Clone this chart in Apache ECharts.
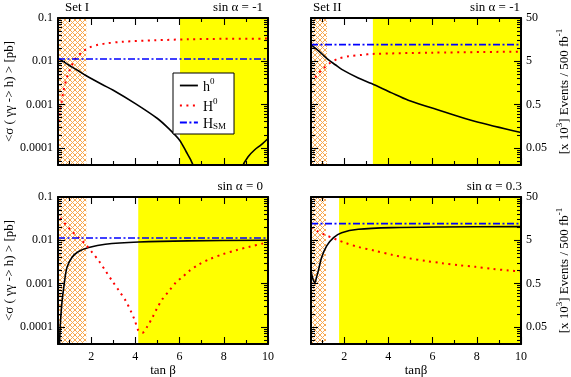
<!DOCTYPE html>
<html>
<head>
<meta charset="utf-8">
<script src="https://cdn.jsdelivr.net/npm/echarts@6/dist/echarts.min.js"></script>
<style>
html,body{margin:0;padding:0;background:#fff}
#chart{width:571px;height:377px}
</style>
</head>
<body>
<div id="chart"></div>
<script>
// axis ranges / ticks
const X_MIN = 0.5, X_MAX = 10;
const Y_MIN = 0.00004, Y_MAX = 0.1;
const EV = 500; // pb -> [x10^3] events for 500 fb^-1
const xMajor = [2, 4, 6, 8, 10];
const xMinor = [1, 3, 5, 7, 9];
const yMajor = [0.0001, 0.001, 0.01, 0.1];
const yMinor = [0.00005, 0.00006, 0.00007, 0.00008, 0.00009,
  0.0002, 0.0003, 0.0004, 0.0005, 0.0006, 0.0007, 0.0008, 0.0009,
  0.002, 0.003, 0.004, 0.005, 0.006, 0.007, 0.008, 0.009,
  0.02, 0.03, 0.04, 0.05, 0.06, 0.07, 0.08, 0.09];
const evTicks = [0.05, 0.5, 5, 50];

// Set I, sin a = -1
const s1a_h0 = [[0.5,0.0119],[0.75,0.0098],[1.0,0.0081],[1.4,0.0061],[1.74,0.00475],[2.5,0.0029],[3.0,0.00214],[4.0,0.00105],[5.0,0.000475],[5.5,0.00028],[6.0,0.00015],[6.3,0.000081],[6.5,0.000053],[6.7,0.00003],[6.85,0.000012],[7.5,null],[8.65,0.000012],[8.8,0.000033],[9.1,0.000062],[9.4,0.00009],[9.7,0.000118],[10,0.000164]];
const s1a_H0 = [[0.5,0.00028],[0.6,0.0007],[0.75,0.0021],[0.9,0.0042],[1.0,0.0058],[1.28,0.0112],[1.59,0.0162],[1.89,0.0205],[2.3,0.024],[2.64,0.0257],[3.4,0.0282],[4.9,0.0305],[6.4,0.0322],[8,0.033],[10,0.0334]];
const s1_hsm = [[0.5,0.0113],[10,0.0113]];

// Set II, sin a = -1
const s2a_h0 = [[0.5,0.0243],[0.75,0.019],[0.98,0.015],[1.28,0.0109],[1.6,0.0083],[1.89,0.0065],[2.64,0.0041],[3.24,0.00305],[4.15,0.00186],[4.9,0.00126],[6.4,0.00071],[7.9,0.00041],[10,0.000226]];
const s2a_H0 = [[0.7,0.0042],[0.76,0.0048],[1.06,0.0068],[1.36,0.0091],[1.74,0.0115],[2.2,0.013],[2.8,0.014],[3.3,0.0148],[6,0.0158],[10,0.0167]];
const s2_hsm = [[0.5,0.0243],[10,0.0243]];

// Set I, sin a = 0
const s1b_h0 = [[0.55,0.00002],[0.6,0.0001],[0.67,0.00033],[0.76,0.00081],[0.9,0.0023],[1.13,0.004],[1.43,0.0055],[1.89,0.0068],[2.64,0.0081],[4.15,0.0091],[6.4,0.0097],[10,0.01]];
const s1b_H0 = [[0.6,0.033],[0.65,0.0305],[0.91,0.0214],[1.14,0.0158],[1.44,0.0115],[1.74,0.0081],[2.05,0.0052],[2.35,0.00333],[2.65,0.00196],[2.95,0.00115],[3.26,0.00068],[3.56,0.0004],[3.79,0.000234],[3.98,0.000138],[4.14,0.000081],[4.32,0.000073],[4.55,0.000104],[4.77,0.000164],[5.0,0.00028],[5.23,0.00044],[5.53,0.00068],[5.83,0.00105],[6.14,0.00143],[6.44,0.00196],[6.89,0.0028],[7.35,0.00365],[7.95,0.00475],[8.56,0.0059],[9.17,0.0071],[9.77,0.0084],[10,0.0088]];

// Set II, sin a = 0.3
const s2b_h0 = [[0.5,0.00196],[0.59,0.00126],[0.68,0.00105],[0.75,0.0014],[0.83,0.00196],[0.98,0.004],[1.21,0.0074],[1.52,0.0115],[1.89,0.015],[2.64,0.0179],[4.15,0.0196],[6.4,0.0203],[10,0.0207]];
const s2b_H0 = [[0.5,0.0196],[0.83,0.0158],[1.14,0.0133],[1.44,0.0115],[1.74,0.01],[2.05,0.0087],[2.64,0.007],[3.41,0.0057],[4.17,0.0046],[4.92,0.00385],[5.68,0.00333],[6.44,0.00295],[7.2,0.00265],[7.95,0.00243],[8.7,0.00219],[9.45,0.002],[10,0.0019]];

// excluded (hatched) and allowed (yellow) tan b ranges per panel
const hatchRanges = [[0.5, 1.78], [0.5, 1.22], [0.5, 1.78], [0.5, 1.18]];
const yellowRanges = [[6.02, 10], [3.3, 10], [4.13, 10], [1.77, 10]];

const FONT = "'Liberation Serif', 'Times New Roman', serif";

// crosshatch pattern
function hatchPattern() {
  const n = 5;
  const c = document.createElement("canvas");
  c.width = n; c.height = n;
  const ctx = c.getContext("2d");
  ctx.fillStyle = "#ffffff";
  ctx.fillRect(0, 0, n, n);
  ctx.strokeStyle = "#f8a850";
  ctx.lineWidth = 1;
  ctx.beginPath();
  ctx.moveTo(-1, -1); ctx.lineTo(n + 1, n + 1);
  ctx.moveTo(n + 1, -1); ctx.lineTo(-1, n + 1);
  ctx.stroke();
  return { image: c, repeat: "repeat" };
}
const hatch = hatchPattern();

const grids = [
  { left: 58, top: 18, width: 210, height: 147 },
  { left: 311, top: 18, width: 210, height: 147 },
  { left: 58, top: 197, width: 210, height: 147 },
  { left: 311, top: 197, width: 210, height: 147 },
];

const blackLine = { color: "#000", width: 2 };
const tickStyle = { color: "#000", width: 1.1 };

function xAxesFor(g, name) {
  const base = { gridIndex: g, type: "value", min: X_MIN, max: X_MAX, z: 5, splitLine: { show: false } };
  return [
    Object.assign({}, base, {
      position: "bottom",
      axisLine: { show: true, onZero: false, lineStyle: blackLine },
      axisTick: { show: true, inside: true, length: 7, customValues: xMajor, lineStyle: tickStyle },
      axisLabel: { show: !!name, customValues: xMajor, color: "#000", fontFamily: FONT, fontSize: 12, margin: 7 },
      name: name || "",
      nameLocation: "middle",
      nameGap: 20,
      nameTextStyle: { color: "#000", fontFamily: FONT, fontSize: 13 },
    }),
    Object.assign({}, base, {
      position: "bottom",
      axisLine: { show: false, onZero: false },
      axisTick: { show: true, inside: true, length: 4, customValues: xMinor, lineStyle: tickStyle },
      axisLabel: { show: false },
    }),
    Object.assign({}, base, {
      position: "top",
      axisLine: { show: true, onZero: false, lineStyle: blackLine },
      axisTick: { show: true, inside: true, length: 7, customValues: xMajor, lineStyle: tickStyle },
      axisLabel: { show: false },
    }),
    Object.assign({}, base, {
      position: "top",
      axisLine: { show: false, onZero: false },
      axisTick: { show: true, inside: true, length: 4, customValues: xMinor, lineStyle: tickStyle },
      axisLabel: { show: false },
    }),
  ];
}

function yAxesFor(g, rightPanel) {
  const base = { gridIndex: g, type: "log", logBase: 10, min: Y_MIN, max: Y_MAX, z: 5, splitLine: { show: false } };
  const label = { color: "#000", fontFamily: FONT, fontSize: 12, margin: 5 };
  const nameStyle = {
    color: "#000", fontFamily: FONT, fontSize: 13,
    rich: {
      t: { fontFamily: FONT, fontSize: 13, lineHeight: 16, verticalAlign: "bottom" },
      sup: { fontFamily: FONT, fontSize: 9, lineHeight: 16, verticalAlign: "top" },
    },
  };
  const left = Object.assign({}, base, {
    position: "left",
    axisLine: { show: true, lineStyle: blackLine },
    axisTick: { show: true, inside: true, length: 7, customValues: yMajor, lineStyle: tickStyle },
    axisLabel: Object.assign({ show: !rightPanel, customValues: yMajor, formatter: (v) => String(v) }, label),
  });
  if (!rightPanel) {
    Object.assign(left, {
      name: "<σ ( γγ -> h) > [pb]",
      nameLocation: "middle",
      nameRotate: 90,
      nameGap: 42,
      nameTextStyle: { color: "#000", fontFamily: FONT, fontSize: 13 },
    });
  }
  let right;
  if (rightPanel) {
    right = Object.assign({}, base, {
      min: Y_MIN * EV, max: Y_MAX * EV,
      position: "right",
      axisLine: { show: true, lineStyle: blackLine },
      axisTick: { show: true, inside: true, length: 7, customValues: evTicks, lineStyle: tickStyle },
      axisLabel: Object.assign({ show: true, customValues: evTicks, formatter: (v) => String(v) }, label),
      name: "{t|[x 10}{sup|3}{t|] Events / 500 fb}{sup|-1}",
      nameLocation: "middle",
      nameRotate: 90,
      nameGap: 34,
      nameTextStyle: nameStyle,
    });
  } else {
    right = Object.assign({}, base, {
      position: "right",
      axisLine: { show: true, lineStyle: blackLine },
      axisTick: { show: true, inside: true, length: 7, customValues: yMajor, lineStyle: tickStyle },
      axisLabel: { show: false },
    });
  }
  const minorL = Object.assign({}, base, {
    position: "left",
    axisLine: { show: false },
    axisTick: { show: true, inside: true, length: 4, customValues: yMinor, lineStyle: tickStyle },
    axisLabel: { show: false },
  });
  const minorR = Object.assign({}, minorL, { position: "right" });
  return [left, minorL, right, minorR];
}

const xAxis = [].concat(xAxesFor(0), xAxesFor(1), xAxesFor(2, "tan β"), xAxesFor(3, "tanβ"));
const yAxis = [].concat(yAxesFor(0, false), yAxesFor(1, true), yAxesFor(2, false), yAxesFor(3, true));

const panels = [
  { h0: s1a_h0, H0: s1a_H0, hsm: s1_hsm },
  { h0: s2a_h0, H0: s2a_H0, hsm: s2_hsm },
  { h0: s1b_h0, H0: s1b_H0, hsm: s1_hsm },
  { h0: s2b_h0, H0: s2b_H0, hsm: s2_hsm },
];

const series = [];
panels.forEach((p, g) => {
  const ax = { xAxisIndex: g * 4, yAxisIndex: g * 4 };
  series.push(Object.assign({
    name: "h0", type: "line", data: p.h0, symbol: "none", smooth: 0.3, clip: true, z: 3,
    lineStyle: { color: "#000", width: 1.6, type: "solid" },
    itemStyle: { color: "#000" },
    markArea: {
      silent: true,
      z: 1,
      data: [
        [{ xAxis: hatchRanges[g][0], itemStyle: { color: hatch } }, { xAxis: hatchRanges[g][1] }],
        [{ xAxis: yellowRanges[g][0], itemStyle: { color: "#ffff00" } }, { xAxis: yellowRanges[g][1] }],
      ],
    },
  }, ax));
  series.push(Object.assign({
    name: "H0", type: "line", data: p.H0, symbol: "none", smooth: 0.3, clip: true, z: 3,
    lineStyle: { color: "#ff0000", width: 2, type: [2, 4.5], cap: "butt" },
    itemStyle: { color: "#ff0000" },
  }, ax));
  series.push(Object.assign({
    name: "HSM", type: "line", data: p.hsm, symbol: "none", clip: true, z: 3,
    lineStyle: { color: "#0000ff", width: 1.6, type: [7, 2.5, 2, 2.5] },
    itemStyle: { color: "#0000ff" },
  }, ax));
});

const labels = {
  h0: "{m|h}{sup|0}",
  H0: "{m|H}{sup|0}",
  HSM: "{m|H}{sub|SM}",
};

const txt = (s) => ({ text: s, font: "13px " + FONT, fill: "#000" });

const option = {
  backgroundColor: "#fff",
  animation: false,
  grid: grids.map((g) => Object.assign({ containLabel: false, outerBoundsMode: "none" }, g)),
  xAxis: xAxis,
  yAxis: yAxis,
  series: series,
  legend: {
    data: ["h0", "H0", "HSM"],
    orient: "vertical",
    left: 173,
    top: 73,
    padding: [4, 8, 3, 6],
    itemGap: 3,
    itemWidth: 18,
    itemHeight: 10,
    backgroundColor: "#fff",
    borderColor: "#000",
    borderWidth: 1,
    borderRadius: 0,
    z: 10,
    selectedMode: false,
    itemStyle: { opacity: 0 },
    lineStyle: { width: 1.8 },
    formatter: (name) => labels[name],
    textStyle: {
      color: "#000",
      fontFamily: FONT,
      fontSize: 13,
      rich: {
        m: { fontFamily: FONT, fontSize: 14, lineHeight: 17, verticalAlign: "bottom" },
        sup: { fontFamily: FONT, fontSize: 9, lineHeight: 17, verticalAlign: "top" },
        sub: { fontFamily: FONT, fontSize: 9, lineHeight: 17, verticalAlign: "bottom" },
      },
    },
  },
  graphic: [
    { type: "text", left: 65, top: 1, style: txt("Set I") },
    { type: "text", right: 308, top: 1, style: txt("sin α = -1") },
    { type: "text", left: 313, top: 1, style: txt("Set II") },
    { type: "text", right: 51, top: 1, style: txt("sin α = -1") },
    { type: "text", right: 308, top: 180, style: txt("sin α = 0") },
    { type: "text", right: 49, top: 180, style: txt("sin α = 0.3") },
  ],
};

const chart = echarts.init(document.getElementById("chart"));
chart.setOption(option);
</script>
</body>
</html>
